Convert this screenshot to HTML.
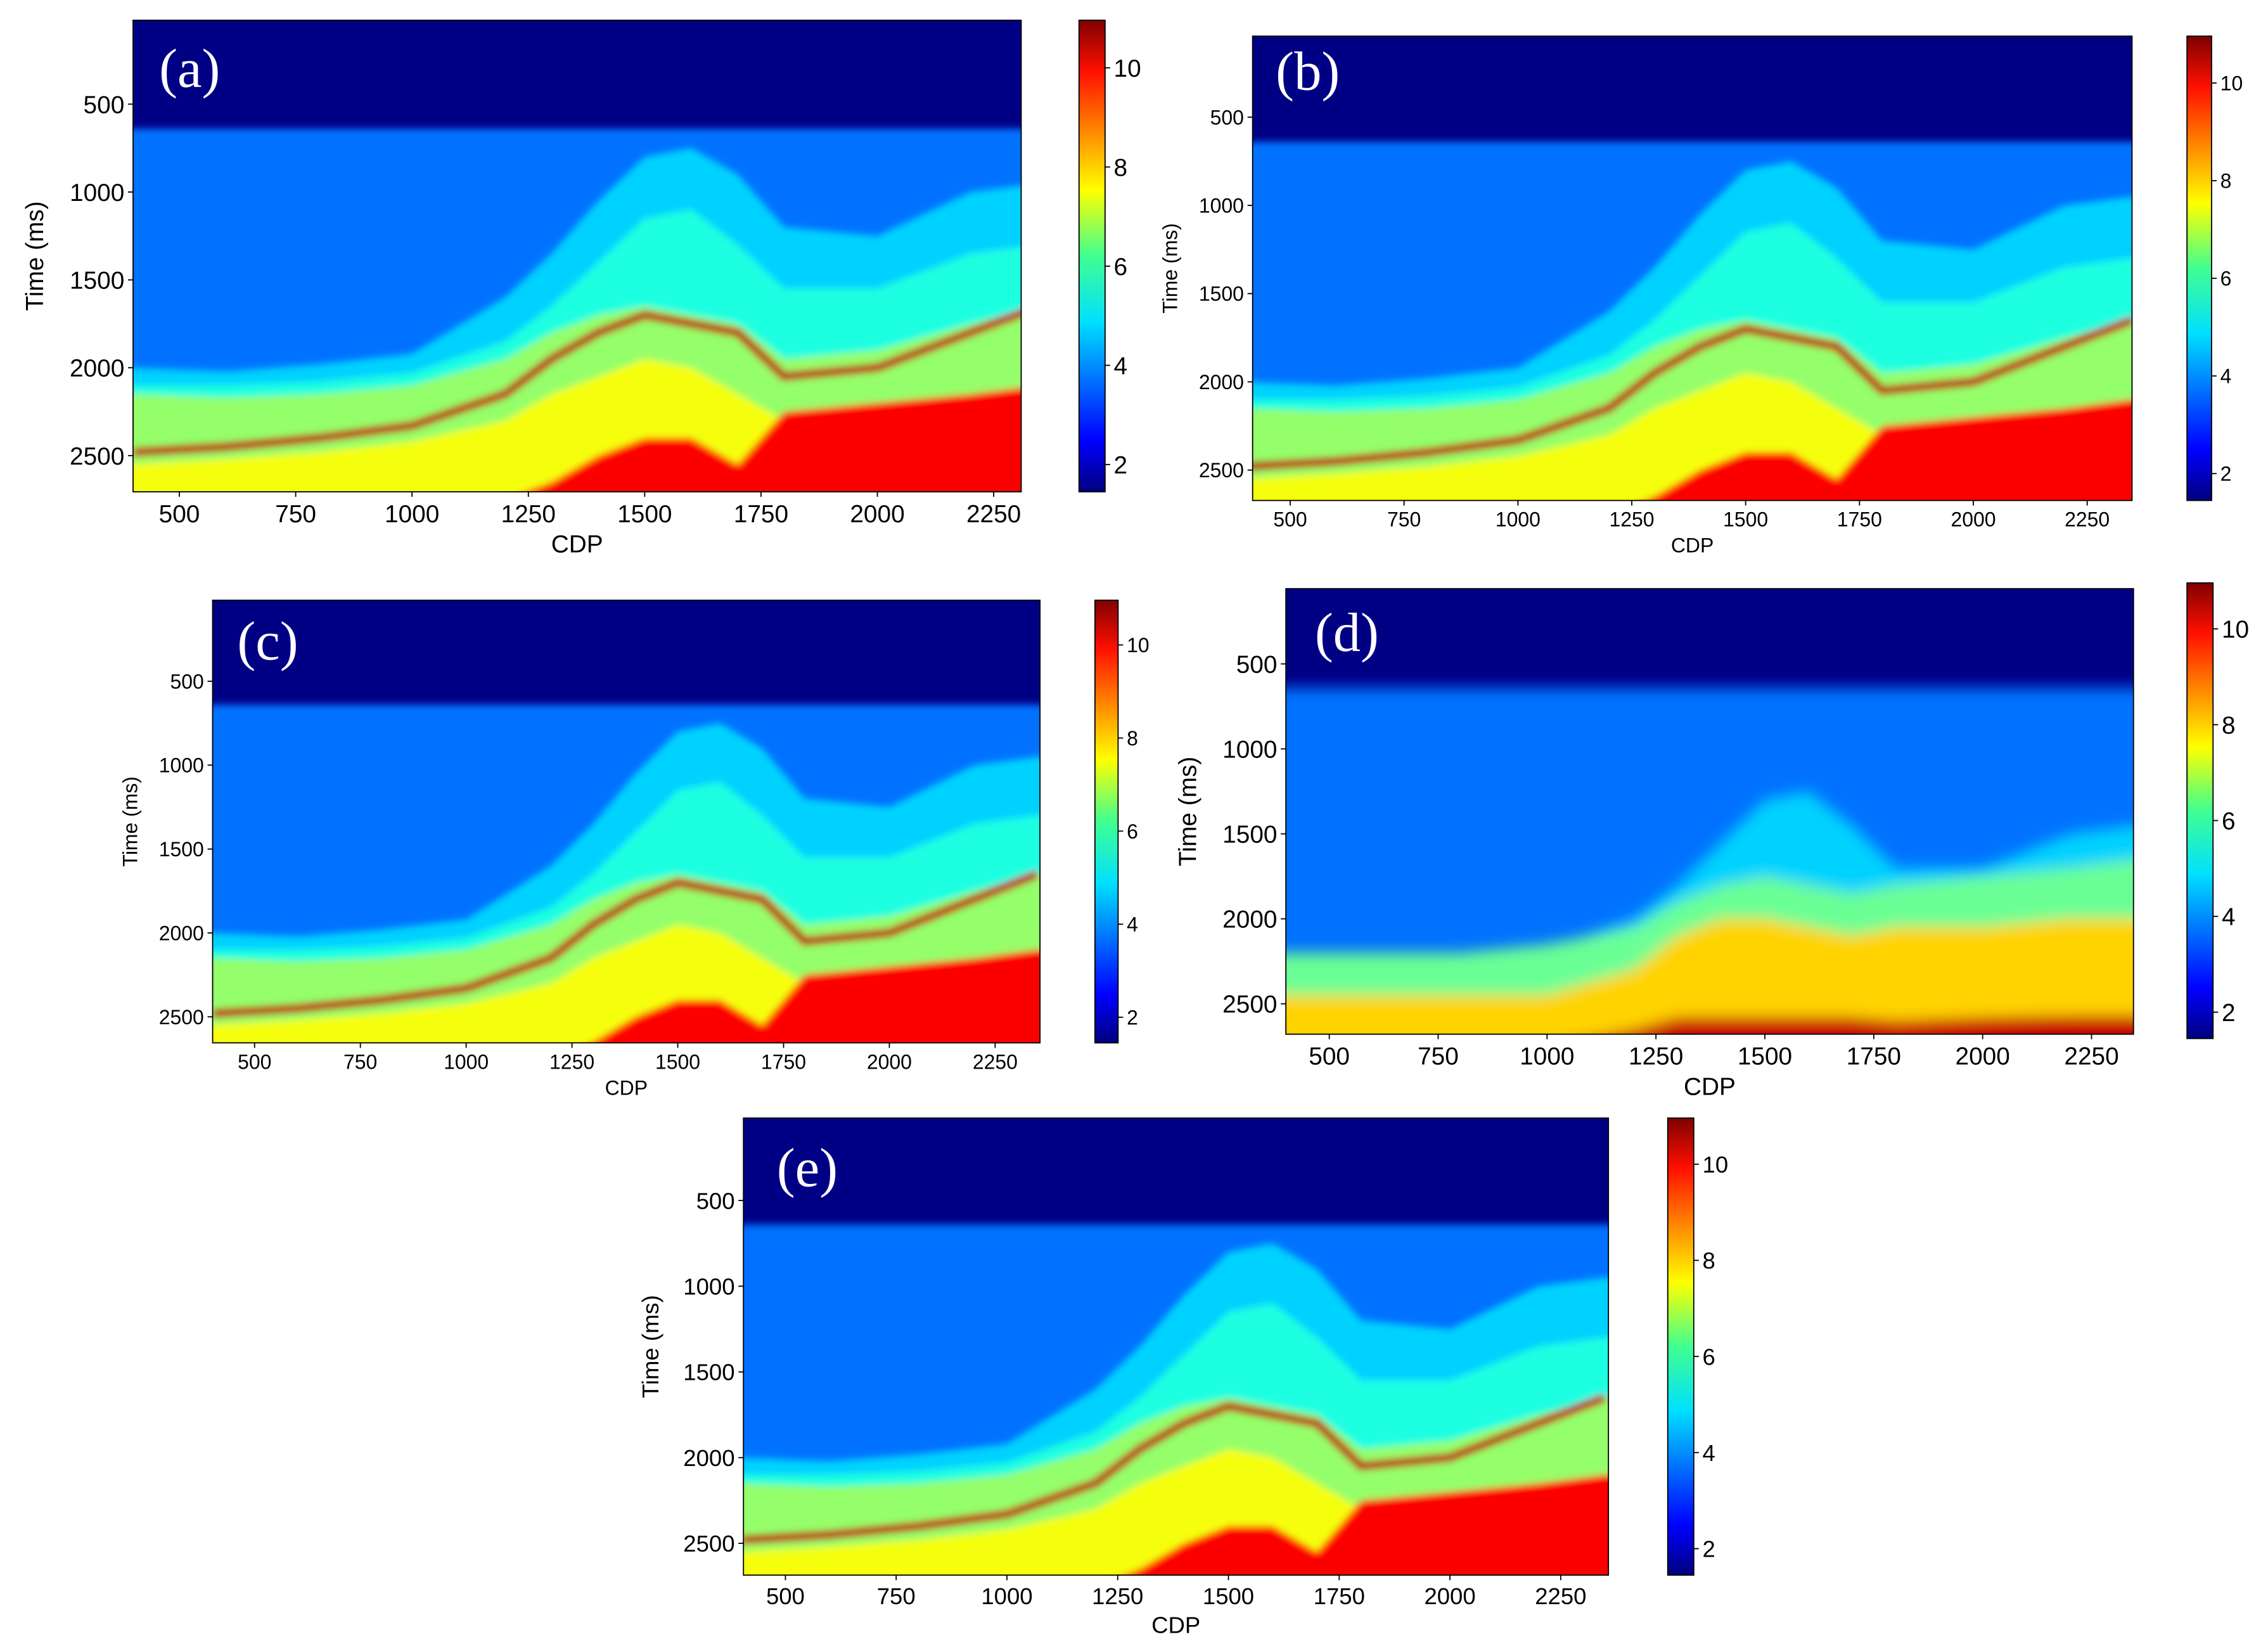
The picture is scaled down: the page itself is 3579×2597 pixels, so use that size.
<!DOCTYPE html>
<html><head><meta charset="utf-8">
<style>
html,body{margin:0;padding:0;background:#fff;}
svg{display:block;}
text{font-family:"Liberation Sans",sans-serif;fill:#000;}
</style></head>
<body>
<svg id="fig" xmlns="http://www.w3.org/2000/svg" width="3579" height="2597" viewBox="0 0 1568 1138" preserveAspectRatio="none">
<defs>
<linearGradient id="jetv" x1="0" y1="1" x2="0" y2="0">
<stop offset="0" stop-color="#00007f"/><stop offset="0.11" stop-color="#0000ff"/>
<stop offset="0.36" stop-color="#00e0ff"/><stop offset="0.5" stop-color="#40ff90"/>
<stop offset="0.64" stop-color="#ffff00"/><stop offset="0.89" stop-color="#ff1000"/>
<stop offset="1" stop-color="#800000"/>
</linearGradient>
<filter id="soft" x="-5%" y="-5%" width="110%" height="110%"><feGaussianBlur stdDeviation="2.5"/></filter>
<filter id="softer" x="-5%" y="-5%" width="110%" height="110%"><feGaussianBlur stdDeviation="5"/></filter>
</defs>
</svg>
<script>
// ---- data (shared horizons, CDP vs time in ms) ----
const cdps      = [400,600,800,1000,1200,1300,1400,1500,1600,1700,1800,2000,2200,2350];
const lightTop  = [2000,2020,1980,1920,1600,1350,1050, 800, 750, 900,1200,1250,1000, 950];
const cyanTop   = [2100,2100,2080,2030,1850,1650,1400,1150,1100,1300,1550,1550,1350,1300];
const greenTop  = [2150,2170,2150,2100,1950,1800,1700,1650,1700,1750,1950,1900,1750,1650];
const yellowTop = [2550,2520,2480,2420,2300,2150,2050,1950,2000,2150,2300,2300,2250,2250];
const redTop    = [2750,2750,2750,2750,2750,2650,2500,2400,2400,2550,2250,2200,2150,2100];
const redLine   = [2480,2450,2400,2330,2150,1950,1800,1700,1750,1800,2050,2000,1800,1650];
const dGreen    = [2200,2200,2200,2150,2050,1900,1800,1750,1800,1850,1800,1750,1700,1650];
const dYellow   = [2450,2450,2450,2450,2300,2100,2000,2000,2050,2100,2050,2050,2000,2000];
const dBottom   = [2750,2750,2750,2750,2650,2580,2580,2580,2580,2580,2600,2580,2570,2570];
const navyEnd = 640;
const cbTicks = [2,4,6,8,10];
const cdpTicks = [500,750,1000,1250,1500,1750,2000,2250];
const timeTicks = [500,1000,1500,2000,2500];
const panels = [
 {id:'a',box:[92,14,706,340],xc:[124,687],yc:[72,315],cb:[746,14,764,340],fs:17,lab:[110,60]},
 {id:'b',box:[866,25,1474,346],xc:[892,1443],yc:[81,325],cb:[1512,25,1529,346],fs:14,lab:[882,62]},
 {id:'c',box:[147,415,719,721],xc:[176,688],yc:[471,703],cb:[757,415,773,721],fs:14,lab:[164,456]},
 {id:'d',box:[889,407,1475,715],xc:[919,1446],yc:[459,694],cb:[1512,403,1530,718],fs:17,lab:[909,450]},
 {id:'e',box:[514,773,1112,1089],xc:[543,1079],yc:[830,1067],cb:[1153,773,1171,1089],fs:16,lab:[537,820]}
];
const vmin=1.45, vmax=10.96;
function jet(v){
  let t=(v-vmin)/(vmax-vmin); t=Math.max(0,Math.min(1,t));
  const r=Math.max(0,Math.min(1,1.5-Math.abs(4*t-3))), g=Math.max(0,Math.min(1,1.5-Math.abs(4*t-2))), b=Math.max(0,Math.min(1,1.5-Math.abs(4*t-1)));
  return `rgb(${Math.round(r*255)},${Math.round(g*255)},${Math.round(b*255)})`;
}
const NS='http://www.w3.org/2000/svg';
const svg=document.getElementById('fig');
function mk(tag,attrs,parent){const e=document.createElementNS(NS,tag);for(const k in attrs)e.setAttribute(k,attrs[k]);(parent||svg).appendChild(e);return e;}

panels.forEach(p=>{
  const [x0,y0,x1,y1]=p.box;
  const X=c=>p.xc[0]+(c-500)*(p.xc[1]-p.xc[0])/1750;
  const Y=t=>p.yc[0]+(t-500)*(p.yc[1]-p.yc[0])/2000;
  const g=mk('g',{});
  
  
  const cp=mk('clipPath',{id:'clip'+p.id},g);
  mk('rect',{x:x0,y:y0,width:x1-x0,height:y1-y0},cp);
  const img=mk('g',{'clip-path':`url(#clip${p.id})`},g);
  
  
  mk('rect',{x:x0,y:y0,width:x1-x0,height:y1-y0,fill:jet(3.7)},img);
  const inner=mk('g',{filter:p.id==='d'?'url(#softer)':'url(#soft)'},img);
  const band=(top,val,bot)=>{
    let d='M'+X(cdps[0]-100)+','+Y(top[0]);
    cdps.forEach((c,i)=>d+=' L'+X(c)+','+Y(top[i]));
    d+=' L'+X(2500)+','+Y(top[top.length-1]);
    if(bot){d+=' L'+X(2500)+','+Y(bot[bot.length-1]);for(let i=cdps.length-1;i>=0;i--)d+=' L'+X(cdps[i])+','+Y(bot[i]);d+=' L'+X(300)+','+Y(bot[0])+' Z';}
    else d+=' L'+X(2500)+','+Y(3000)+' L'+X(300)+','+Y(3000)+' Z';
    const e=mk('path',{d:d,fill:jet(val)},inner);
    
    
  };
  const line=(arr,val,w)=>{
    let d='';cdps.forEach((c,i)=>d+=(i?' L':'M')+X(c)+','+Y(arr[i]));
    const e=mk('path',{d:d,fill:'none',stroke:jet(val),'stroke-width':w},inner);
    
    
  };
  if(p.id==='d'){
    band(cyanTop.map(v=>v+150),4.6);
    band(dGreen,6.0);
    band(dYellow,7.8);
    band(dBottom,10.3);
  } else {
    band(lightTop,4.6);
    band(cyanTop,5.3);
    band(greenTop,6.4);
    band(yellowTop,7.3);
    band(redTop,9.8);
    line(redLine,10.4,6);
  }
  band(cdps.map(()=>-200),1.5,cdps.map(()=>navyEnd));
  mk('rect',{x:x0,y:y0,width:x1-x0,height:y1-y0,fill:'none',stroke:'#000','stroke-width':0.8},g);
  const lt=mk('text',{x:p.lab[0],y:p.lab[1],'font-size':38,style:'font-family:"Liberation Serif",serif;fill:#fff'},g);
  lt.textContent='('+p.id+')';
  
  
  cdpTicks.forEach(c=>{const x=X(c);if(x<x0||x>x1)return;
    mk('line',{x1:x,x2:x,y1:y1,y2:y1+3.5,stroke:'#000','stroke-width':0.8},g);
    const t=mk('text',{x:x,y:y1+4+p.fs,'font-size':p.fs,'text-anchor':'middle'},g);t.textContent=c;
    
    });
  timeTicks.forEach(v=>{const y=Y(v);
    mk('line',{x1:x0-3.5,x2:x0,y1:y,y2:y,stroke:'#000','stroke-width':0.8},g);
    const t=mk('text',{x:x0-6,y:y+p.fs*0.36,'font-size':p.fs,'text-anchor':'end'},g);t.textContent=v;
    
    });
  const xl=mk('text',{x:(x0+x1)/2,y:y1+8+2*p.fs,'font-size':p.fs,'text-anchor':'middle'},g);xl.textContent='CDP';
  
  
  const yx=x0-3.3*p.fs-6, yy=(y0+y1)/2;
  const yl=mk('text',{x:yx,y:yy,'font-size':p.fs,'text-anchor':'middle',transform:`rotate(-90 ${yx} ${yy})`},g);yl.textContent='Time (ms)';
  
  
  const [c0,cy0,c1,cy1]=p.cb;
  const cb=mk('rect',{x:c0,y:cy0,width:c1-c0,height:cy1-cy0,fill:'url(#jetv)',stroke:'#000','stroke-width':0.8},g);
  
  
  cbTicks.forEach(v=>{const y=cy1-(v-vmin)/(vmax-vmin)*(cy1-cy0);
    mk('line',{x1:c1,x2:c1+3.5,y1:y,y2:y,stroke:'#000','stroke-width':0.8},g);
    const t=mk('text',{x:c1+6,y:y+p.fs*0.36,'font-size':p.fs},g);t.textContent=v;
    
    });
});
</script>
</body></html>
